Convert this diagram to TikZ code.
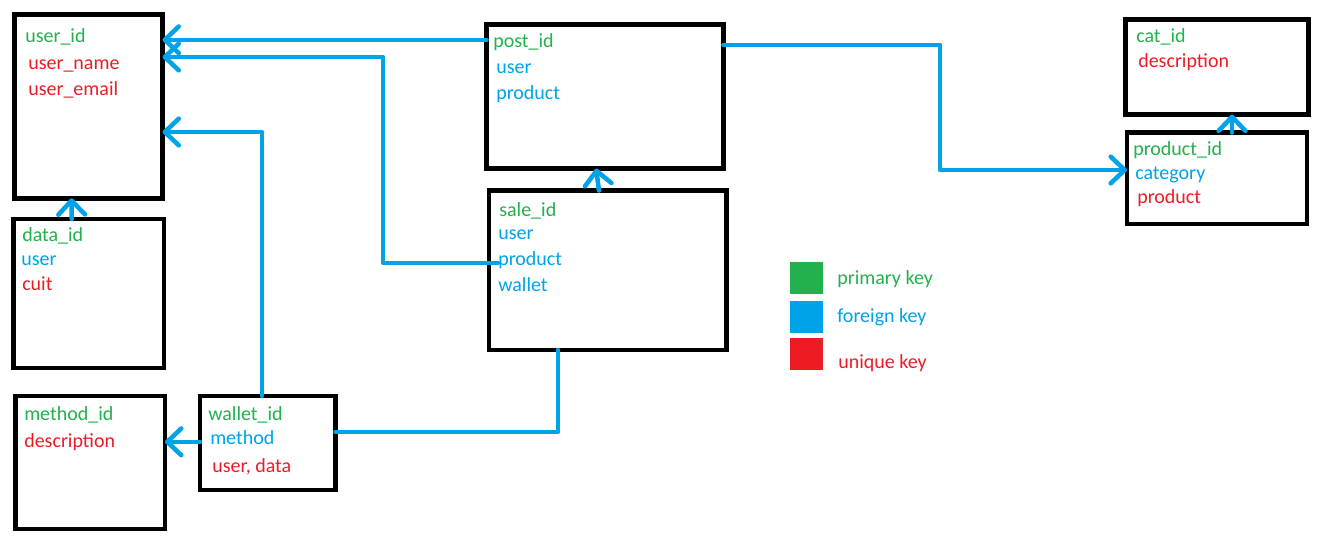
\documentclass[tikz,border=0pt]{standalone}
\usepackage{fontspec}
\setmainfont{Carlito}
\usepackage{xcolor}
\usetikzlibrary{arrows.meta}

\definecolor{pkgreen}{HTML}{22B14C}
\definecolor{fkblue}{HTML}{00A2E8}
\definecolor{ukred}{HTML}{ED1C24}

\begin{document}
\begin{tikzpicture}[x=0.75pt, y=-0.75pt,
		tablebox/.style={draw, line width=3.4pt, inner sep=0pt, outer sep=0pt},
		field/.style={anchor=base west, inner sep=0pt, font=\fontsize{15}{18}\selectfont},
		pk/.style={field, text=pkgreen},
		fk/.style={field, text=fkblue},
		uk/.style={field, text=ukred},
		swatch/.style={inner sep=0pt, minimum width=24.75pt, minimum height=24pt},
		link/.style={draw=fkblue, line width=3.4pt, line cap=round, line join=round},
		ref/.style={link, -{Straight Barb[length=10.5pt, width=20pt, round]}}]
		\useasboundingbox (0,0) rectangle (1329,545);

		% tables
		\node[tablebox, minimum width=111pt, minimum height=137.9pt] (user) at (88.5,106.4) {};
		\node[tablebox, minimum width=112.9pt, minimum height=111.75pt] (data) at (88.75,293.5) {};
		\node[tablebox, minimum width=112.1pt, minimum height=99.75pt] (method) at (90.25,462.5) {};
		\node[tablebox, minimum width=101.6pt, minimum height=70.5pt] (wallet) at (267.75,443) {};
		\node[tablebox, minimum width=177.75pt, minimum height=108pt] (post) at (605,96.5) {};
		\node[tablebox, minimum width=178.1pt, minimum height=119.6pt] (sale) at (607.75,270.25) {};
		\node[tablebox, minimum width=137.25pt, minimum height=71.25pt] (cat) at (1217,67) {};
		\node[tablebox, minimum width=135pt, minimum height=68.6pt] (product) at (1217,178.25) {};

		% fields
		\node[pk] (userid) at (25,43) {user\_id};
		\node[uk] (username) at (28,70) {user\_name};
		\node[uk] (useremail) at (28,96) {user\_email};

		\node[pk] (dataid) at (22,242) {data\_id};
		\node[fk] (datauser) at (21,266) {user};
		\node[uk] (datacuit) at (22,291) {cuit};

		\node[pk] (methodid) at (24,421) {method\_id};
		\node[uk] (methoddesc) at (24,447) {description};

		\node[pk] (walletid) at (208,421) {wallet\_id};
		\node[fk] (walletmethod) at (210,445) {method};
		\node[uk] (walletuser) at (212,472) {user, data};

		\node[pk] (postid) at (493,48) {post\_id};
		\node[fk] (postuser) at (496,74) {user};
		\node[fk] (postproduct) at (496,100) {product};

		\node[pk] (saleid) at (499,217) {sale\_id};
		\node[fk] (saleuser) at (498,240) {user};
		\node[fk] (saleproduct) at (498,266) {product};
		\node[fk] (salewallet) at (498,292) {wallet};

		\node[pk] (catid) at (1136,43) {cat\_id};
		\node[uk] (catdesc) at (1138,68) {description};

		\node[pk] (productid) at (1133,156) {product\_id};
		\node[fk] (productcat) at (1135,180) {category};
		\node[uk] (productname) at (1137,204) {product};

		% legend
		\node[swatch, fill=pkgreen] (keypk) at (806.5,278.5) {};
		\node[swatch, fill=fkblue] (keyfk) at (806.5,317) {};
		\node[swatch, fill=ukred] (keyuk) at (806.5,354) {};
		\node[pk] (keypktext) at (837,285) {primary key};
		\node[fk] (keyfktext) at (837,323) {foreign key};
		\node[uk] (keyuktext) at (838,369) {unique key};

		% bends
		\coordinate (bend1) at (383,57);
		\coordinate (bend2) at (262,132);
		\coordinate (bend3) at (558,432);
		\coordinate (bend4) at (940,170);

		% references
		\draw[ref] (post.west |- userid.mid) -- (user.east |- userid.mid);
		\draw[ref] (saleproduct.mid west) -| (bend1) -- (user.east |- bend1);
		\draw[ref] (wallet.north -| bend2) |- (user.east |- bend2);
		\draw[ref] ([xshift=-12.75pt]data.north) -- ([xshift=-12.75pt]user.south);
		\draw[ref] (wallet.west |- walletmethod.mid) -- (method.east |- walletmethod.mid);
		\draw[link] (sale.south -| bend3) |- (wallet.east |- bend3);
		\draw[ref] ([xshift=-6.6pt]sale.north) -- ([xshift=-6.6pt]post.south);
		\draw[ref] (post.east |- postid.mid) -| (bend4) -- (product.west |- bend4);
		\draw[ref] ([xshift=11.25pt]product.north) -- ([xshift=11.25pt]cat.south);
	\end{tikzpicture}
\end{document}
